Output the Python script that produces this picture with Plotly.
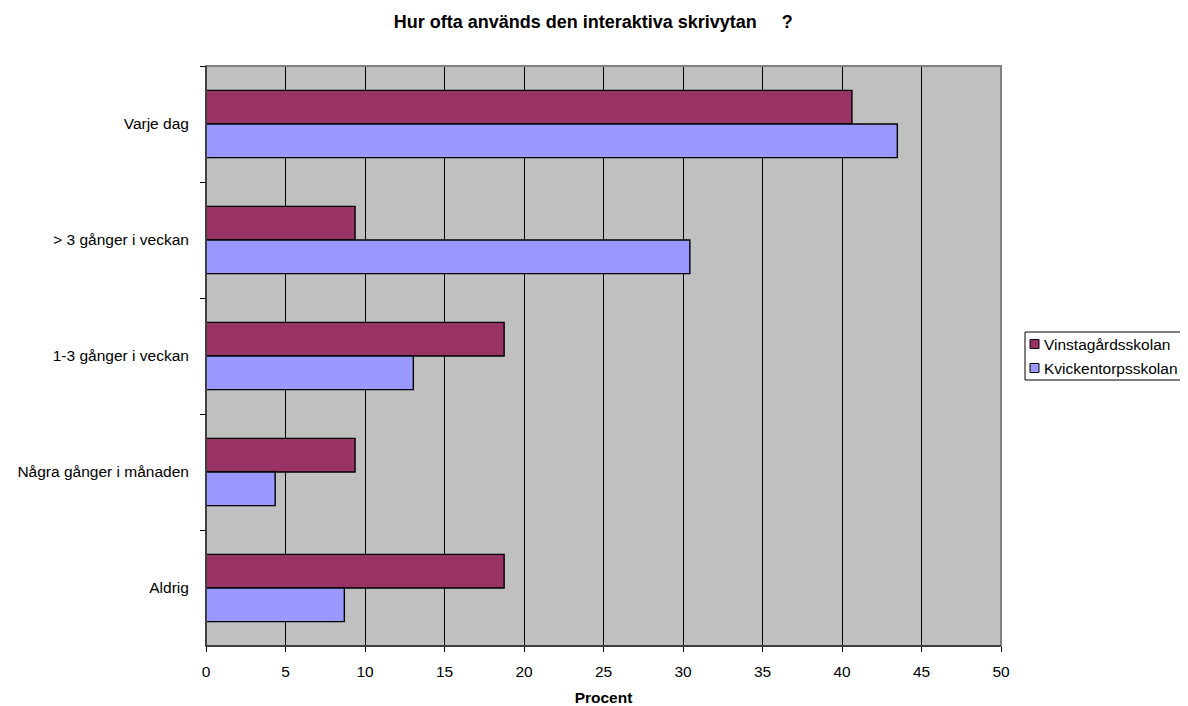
import plotly.graph_objects as go

categories = ["Varje dag", "> 3 gånger i veckan", "1-3 gånger i veckan",
              "Några gånger i månaden", "Aldrig"]
series_names = ["Vinstagårdsskolan", "Kvickentorpsskolan"]
vinstagard = [40.625, 9.375, 18.75, 9.375, 18.75]
kvickentorp = [43.48, 30.43, 13.04, 4.35, 8.70]
colors = ["#993366", "#9999FF"]

FONT = "Liberation Sans, Arial, sans-serif"

fig = go.Figure()
for name, vals, col in zip(series_names, [vinstagard, kvickentorp], colors):
    fig.add_trace(go.Bar(
        y=categories, x=vals, orientation="h", name=name,
        marker=dict(color=col, line=dict(color="#000000", width=1.4)),
    ))

# page body has an 8px margin, so the figure is a little smaller than the window
fig.update_layout(
    width=1180, height=698,
    margin=dict(l=198, r=187, t=58, b=60),
    paper_bgcolor="white", plot_bgcolor="#C0C0C0",
    font=dict(family=FONT, size=15.5, color="#000000"),
    title=dict(text="<b>Hur ofta används den interaktiva skrivytan     ?</b>",
               xref="container", x=0.496, xanchor="center",
               yref="container", y=0.981, yanchor="middle",
               font=dict(size=18)),
    barmode="group", bargap=0.42, bargroupgap=0,
    showlegend=False,
)
fig.update_xaxes(
    range=[0, 50], dtick=5, tick0=0, automargin=False,
    showgrid=True, gridcolor="#000000", gridwidth=1,
    ticks="outside", ticklen=5, tickcolor="#000000",
    showline=True, linecolor="#000000", linewidth=1,
    zeroline=False, ticklabelstandoff=6,
    title=dict(text="<b>Procent</b>", font=dict(size=15.5), standoff=16),
)
fig.update_yaxes(
    autorange="reversed", type="category", automargin=False,
    tickson="boundaries", ticks="outside", ticklen=5, tickcolor="#000000",
    showgrid=False, showline=True, linecolor="#000000", linewidth=1,
    ticklabelstandoff=13,
)
fig.add_shape(type="rect", xref="paper", yref="paper", x0=0, x1=1, y0=0, y1=1,
              line=dict(color="#808080", width=2), layer="above")
fig.add_shape(type="line", xref="paper", yref="paper", x0=0, x1=0, y0=0, y1=1,
              line=dict(color="#000000", width=1), layer="above")
fig.add_shape(type="line", xref="paper", yref="paper", x0=0, x1=1, y0=0, y1=0,
              line=dict(color="#000000", width=1), layer="above")


# excel style legend box: small squares close to the text
def px_x(px):
    return (px - 206) / 795


def px_y(px):
    return (646 - px) / 580


fig.add_shape(type="rect", xref="paper", yref="paper",
              x0=px_x(1025), x1=px_x(1186), y0=px_y(380), y1=px_y(332),
              line=dict(color="#000000", width=1), fillcolor="white")
for i, (name, col) in enumerate(zip(series_names, colors)):
    yc = 344 + 24 * i
    fig.add_shape(type="rect", xref="paper", yref="paper",
                  x0=px_x(1030), x1=px_x(1039), y0=px_y(yc + 4.5), y1=px_y(yc - 4.5),
                  line=dict(color="#000000", width=1), fillcolor=col)
    fig.add_annotation(text=name, xref="paper", yref="paper",
                       x=px_x(1042), y=px_y(yc), xanchor="left", yanchor="middle",
                       showarrow=False, font=dict(size=15.5))

fig.write_html("out.html")
